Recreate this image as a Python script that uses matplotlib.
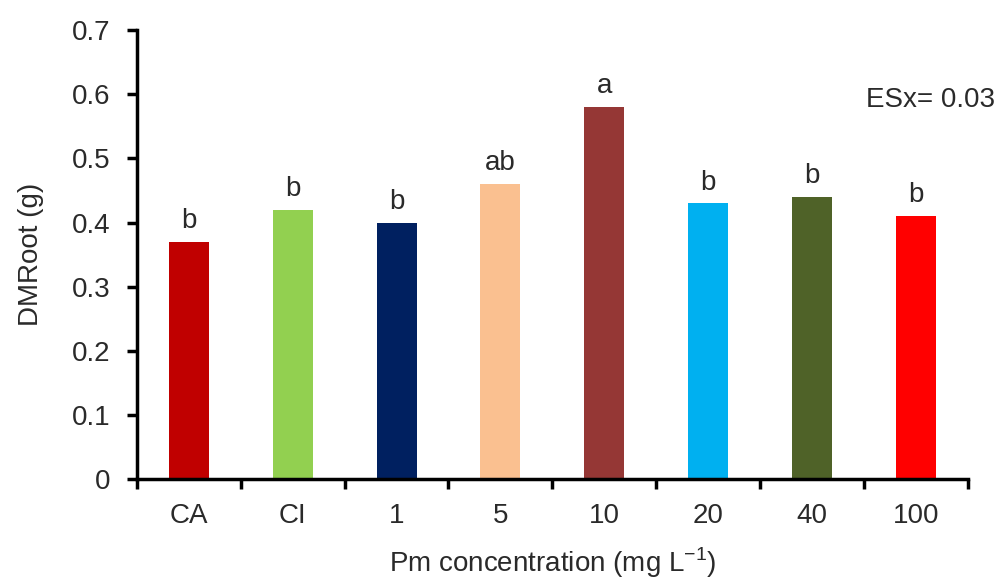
import matplotlib
matplotlib.use("Agg")
import matplotlib.pyplot as plt

plt.rcParams['font.family'] = ['Liberation Sans', 'DejaVu Sans']

categories = ["CA", "CI", "1", "5", "10", "20", "40", "100"]
values = [0.37, 0.42, 0.40, 0.46, 0.58, 0.43, 0.44, 0.41]
letters = ["b", "b", "b", "ab", "a", "b", "b", "b"]
colors = ["#C00000", "#92D050", "#002060", "#FAC090", "#953735", "#00B0F0", "#4F6228", "#FF0000"]
yticks = [0, 0.1, 0.2, 0.3, 0.4, 0.5, 0.6, 0.7]
ytick_labels = ["0", "0.1", "0.2", "0.3", "0.4", "0.5", "0.6", "0.7"]

FS = 20
TXT = '#2a2a2a'

fig = plt.figure(figsize=(10.02, 5.82), dpi=100)
ax = fig.add_axes([0.1367, 0.177, 0.829, 0.771])

x = list(range(len(categories)))
ax.bar(x, values, width=0.385, color=colors, zorder=2)
for xi, v, l in zip(x, values, letters):
    ax.text(xi, v + 0.012, l, ha='center', va='bottom', fontsize=FS, color=TXT)

ax.set_xlim(-0.5, len(categories) - 0.5)
ax.set_ylim(0, 0.7)
ax.set_yticks(yticks)
ax.set_yticklabels(ytick_labels, fontsize=FS, color=TXT)
ax.set_xticks(x)
ax.set_xticklabels(categories, fontsize=FS, color=TXT)
ax.tick_params(axis='x', length=0, pad=17)
ax.set_xticks([i - 0.5 for i in range(len(categories) + 1)], minor=True)
ax.tick_params(axis='x', which='minor', length=7, width=2.5, direction='out')
ax.tick_params(axis='y', length=7, width=2.5, direction='out', pad=12)

for s in ['top', 'right']:
    ax.spines[s].set_visible(False)
for s in ['left', 'bottom']:
    ax.spines[s].set_linewidth(2.5)

ax.set_ylabel("DMRoot (g)", fontsize=FS, color=TXT, labelpad=20)
ax.set_xlabel("Pm concentration (mg L$^{\\mathregular{-1}}$)", fontsize=FS, color=TXT, labelpad=12)

fig.text(0.993, 0.828, "ESx= 0.03", ha='right', va='center', fontsize=FS, color=TXT)

fig.savefig("out.png", dpi=100)
